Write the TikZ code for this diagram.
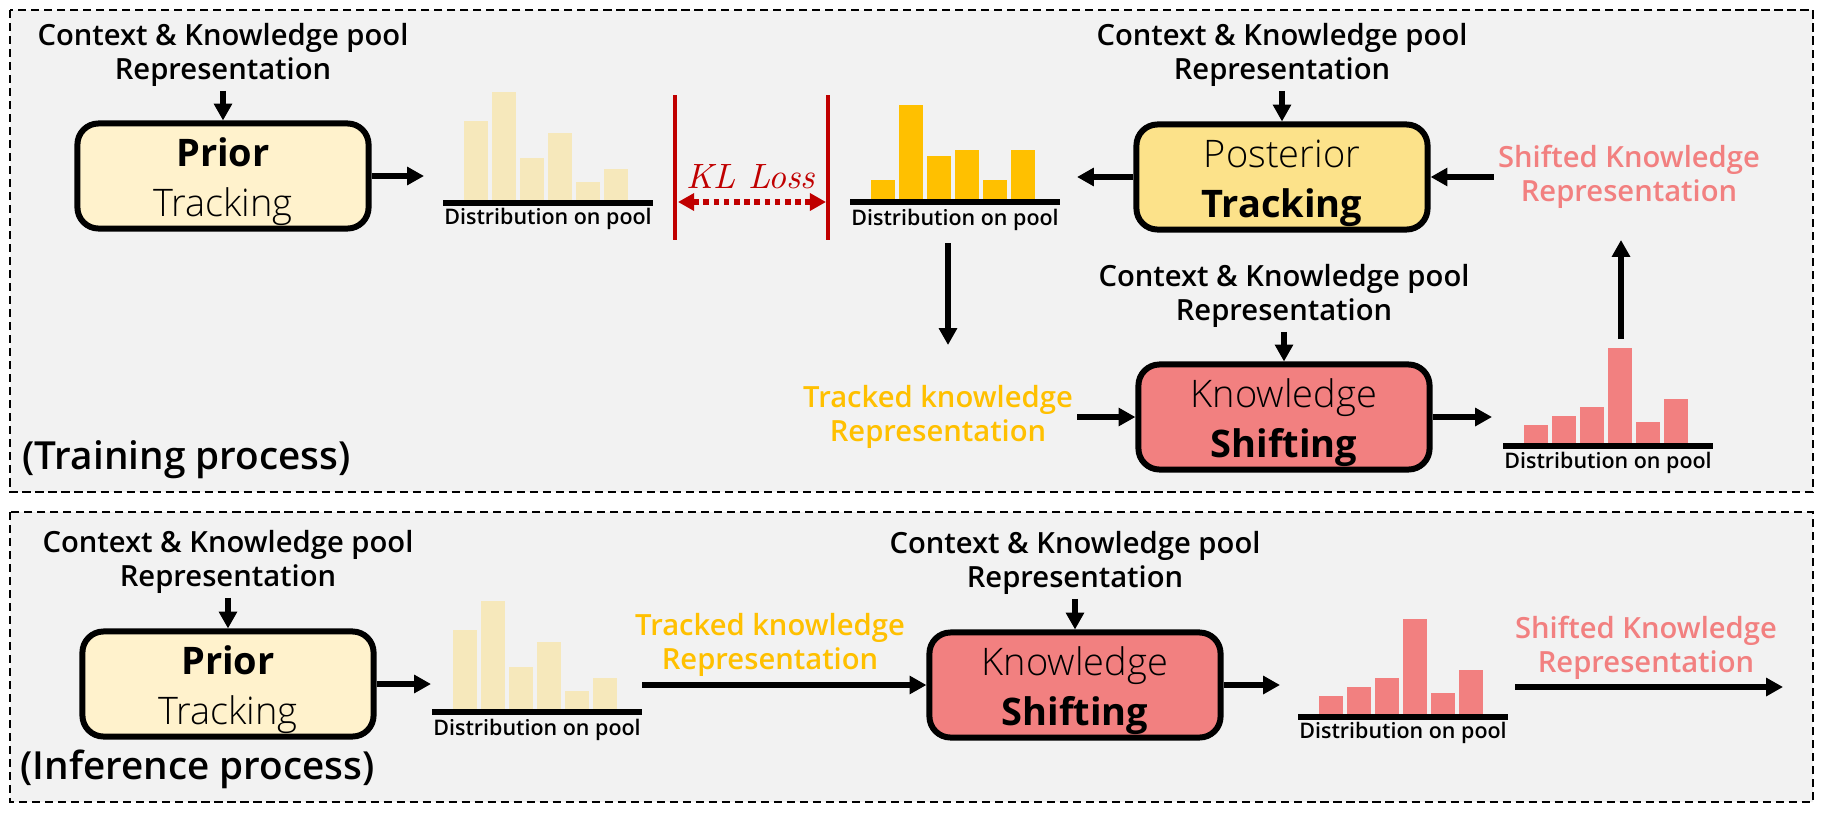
\documentclass[tikz,border=0pt]{standalone}
\usepackage{fontspec}
\setsansfont{Open Sans}
\newfontfamily\lightfont{Open Sans Light}
\newfontfamily\semifont{Open Sans Semibold}
\usetikzlibrary{arrows.meta}

\definecolor{panelgray}{HTML}{F2F2F2}
\definecolor{priorfill}{HTML}{FFF2CC}
\definecolor{postfill}{HTML}{FCE28A}
\definecolor{shiftfill}{HTML}{F28080}
\definecolor{palebar}{HTML}{F6E8BB}
\definecolor{goldbar}{HTML}{FFC000}
\definecolor{klred}{HTML}{C00000}

\begin{document}
\begin{tikzpicture}[x=0.01cm, y=-0.01cm,
    panel/.style={draw, fill=panelgray, line width=0.6pt, dash pattern=on 2.3pt off 1.4pt},
    module/.style={draw, line width=1.7pt, rounded corners=6pt, align=center, minimum width=2.91cm, minimum height=1.05cm, inner sep=0pt, font=\sffamily\fontsize{10.8}{14.2}\selectfont},
    input text/.style={align=center, inner sep=1pt, font=\semifont\fontsize{8.3}{9.7}\selectfont},
    dist text/.style={inner sep=0pt, font=\semifont\fontsize{6.1}{7}\selectfont},
    stage text/.style={anchor=west, inner sep=0pt, font=\semifont\fontsize{11}{13}\selectfont},
    arr/.style={line width=1.6pt, -{Triangle[length=4.8pt, width=5pt]}},
    kl line/.style={klred, line width=0.9pt},
    kl arr/.style={klred, line width=1.5pt, dash pattern=on 1.6pt off 1.3pt, {Triangle[length=4.6pt, width=4.8pt]}-{Triangle[length=4.6pt, width=4.8pt]}}]
    \useasboundingbox (0,0) rectangle (1821,812);

    % panels
    \draw[panel] (10,10) rectangle (1813,492);
    \draw[panel] (10,512) rectangle (1813,802);

    % ---------- training ----------
    \node[input text] (ctx1) at (223,55) {Context \& Knowledge pool\\Representation};
    \node[module, fill=priorfill] (prior1) at (223,176) {\rule{0pt}{11.5pt}{\bfseries Prior}\\{\lightfont Tracking}};
    \draw[arr] (ctx1) -- (prior1);
    \coordinate (p1out) at (424,176);
    \draw[arr] (prior1) -- (p1out);

    \foreach \h [count=\i] in {79,108,42,67,18,31}
        \fill[palebar] ({443+21+28*(\i-1)},200) rectangle +(24,-\h);
    \fill (443,200) rectangle (653,206);
    \node[dist text] (dist1) at (548,219) {Distribution on pool};

    \draw[kl line] (675,95) -- (675,240);
    \draw[kl line] (828,95) -- (828,240);
    \coordinate (klL) at (678,202);
    \coordinate (klR) at (826,202);
    \draw[kl arr] (klL) -- (klR);
    \node[text=klred, font=\rmfamily\itshape\fontsize{10}{11}\selectfont] (kl) at (751,177) {KL Loss};

    \foreach \h [count=\i] in {19,94,43,49,19,49}
        \fill[goldbar] ({850+21+28*(\i-1)},199) rectangle +(24,-\h);
    \fill (850,199) rectangle (1060,205);
    \node[dist text] (dist2) at (955,220) {Distribution on pool};

    \node[input text] (ctx2) at (1282,55) {Context \& Knowledge pool\\Representation};
    \node[module, fill=postfill] (post) at (1282,177) {\rule{0pt}{11.5pt}{\lightfont Posterior}\\{\bfseries Tracking}};
    \draw[arr] (ctx2) -- (post);
    \coordinate (postout) at (1077,177);
    \draw[arr] (post) -- (postout);

    \node[input text, text=shiftfill] (shifted1) at (1629,177) {Shifted Knowledge\\Representation};
    \draw[arr] (shifted1) -- (post);

    \coordinate (down1) at (948,243);
    \coordinate (down2) at (948,345);
    \draw[arr] (down1) -- (down2);

    \node[input text] (ctx3) at (1284,296) {Context \& Knowledge pool\\Representation};
    \node[module, fill=shiftfill] (shift1) at (1284,417) {\rule{0pt}{11.5pt}{\lightfont Knowledge}\\{\bfseries Shifting}};
    \draw[arr] (ctx3) -- (shift1);
    \node[input text, text=goldbar] (tracked1) at (938,417) {Tracked knowledge\\Representation};
    \draw[arr] (tracked1) -- (shift1);
    \coordinate (s1out) at (1492,417);
    \draw[arr] (shift1) -- (s1out);

    \foreach \h [count=\i] in {18,27,36,95,21,44}
        \fill[shiftfill] ({1503+21+28*(\i-1)},443) rectangle +(24,-\h);
    \fill (1503,443) rectangle (1713,449);
    \node[dist text] (dist3) at (1608,463) {Distribution on pool};
    \coordinate (up1) at (1621,339);
    \coordinate (up2) at (1621,240);
    \draw[arr] (up1) -- (up2);

    \node[stage text] (train) at (22,460) {(Training process)};

    % ---------- inference ----------
    \node[input text] (ctx4) at (228,562) {Context \& Knowledge pool\\Representation};
    \node[module, fill=priorfill] (prior2) at (228,684) {\rule{0pt}{11.5pt}{\bfseries Prior}\\{\lightfont Tracking}};
    \draw[arr] (ctx4) -- (prior2);
    \coordinate (p2out) at (431,684);
    \draw[arr] (prior2) -- (p2out);

    \foreach \h [count=\i] in {79,108,42,67,18,31}
        \fill[palebar] ({432+21+28*(\i-1)},709) rectangle +(24,-\h);
    \fill (432,709) rectangle (642,715);
    \node[dist text] (dist4) at (537,730) {Distribution on pool};

    \node[input text, text=goldbar] (tracked2) at (770,645) {Tracked knowledge\\Representation};
    \coordinate (t2in) at (642,685);
    \node[input text] (ctx5) at (1075,563) {Context \& Knowledge pool\\Representation};
    \node[module, fill=shiftfill] (shift2) at (1075,685) {\rule{0pt}{11.5pt}{\lightfont Knowledge}\\{\bfseries Shifting}};
    \draw[arr] (ctx5) -- (shift2);
    \draw[arr] (t2in) -- (shift2);
    \coordinate (s2out) at (1280,685);
    \draw[arr] (shift2) -- (s2out);

    \foreach \h [count=\i] in {18,27,36,95,21,44}
        \fill[shiftfill] ({1298+21+28*(\i-1)},714) rectangle +(24,-\h);
    \fill (1298,714) rectangle (1508,720);
    \node[dist text] (dist5) at (1403,733) {Distribution on pool};

    \node[input text, text=shiftfill] (shifted2) at (1646,648) {Shifted Knowledge\\Representation};
    \coordinate (finL) at (1515,687);
    \coordinate (finR) at (1783,687);
    \draw[arr] (finL) -- (finR);

    \node[stage text] (infer) at (20,769) {(Inference process)};
\end{tikzpicture}
\end{document}
